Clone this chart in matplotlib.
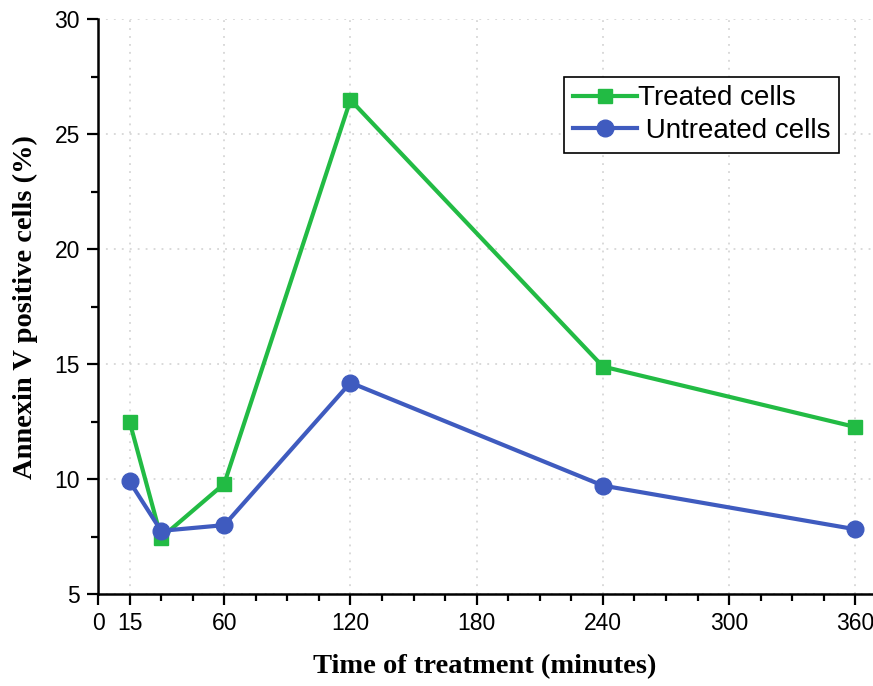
import matplotlib
matplotlib.use('Agg')
import matplotlib.pyplot as plt
from matplotlib.ticker import MultipleLocator, FixedLocator

# time points (minutes) and Annexin V positive cells (%)
time_min = [15, 30, 60, 120, 240, 360]
treated = [12.5, 7.45, 9.8, 26.5, 14.9, 12.27]
untreated = [9.9, 7.75, 8.0, 14.2, 9.72, 7.82]

x_ticks = [0, 15, 60, 120, 180, 240, 300, 360]
y_ticks = [5, 10, 15, 20, 25, 30]

green = '#22bb44'
blue = '#3f5bbf'

fig = plt.figure(figsize=(8.73, 6.86), dpi=100)
ax = fig.add_axes([0.1123, 0.134, 0.8867, 0.8376])

ax.plot(time_min, treated, color=green, lw=3, marker='s', ms=10.5,
        label='Treated cells', zorder=3)
ax.plot(time_min, untreated, color=blue, lw=3, marker='o', ms=12,
        label=' Untreated cells', zorder=3)

ax.set_xlim(0, 368)
ax.set_ylim(5, 30)
ax.xaxis.set_major_locator(FixedLocator(x_ticks))
ax.xaxis.set_minor_locator(MultipleLocator(15))
ax.yaxis.set_major_locator(FixedLocator(y_ticks))
ax.yaxis.set_minor_locator(MultipleLocator(2.5))

ax.grid(True, which='major', color='#cfcfcf', linestyle=(0, (1.2, 4)), lw=1.1)
ax.set_axisbelow(True)

for side in ['top', 'right']:
    ax.spines[side].set_visible(False)
for side in ['left', 'bottom']:
    ax.spines[side].set_linewidth(1.8)

ax.tick_params(which='major', direction='out', length=8, width=1.6,
               labelsize=16.5, pad=5)
ax.tick_params(which='minor', direction='out', length=5, width=1.6)
for lbl in ax.get_xticklabels() + ax.get_yticklabels():
    lbl.set_family('Liberation Sans')

ax.set_xlabel('Time of treatment (minutes)', family='Liberation Serif',
              fontweight='bold', fontsize=20.5, labelpad=14)
ax.set_ylabel('Annexin V positive cells (%)', family='Liberation Serif',
              fontweight='bold', fontsize=20.5, labelpad=12)

leg = ax.legend(loc='upper right', bbox_to_anchor=(0.957, 0.9),
                borderaxespad=0, fancybox=False, edgecolor='black',
                prop={'family': 'Liberation Sans', 'size': 20},
                handlelength=2.3, handletextpad=0.05, borderpad=0.3,
                labelspacing=0.25, framealpha=1)
leg.get_frame().set_linewidth(1.2)

fig.savefig('out.png', dpi=100)
